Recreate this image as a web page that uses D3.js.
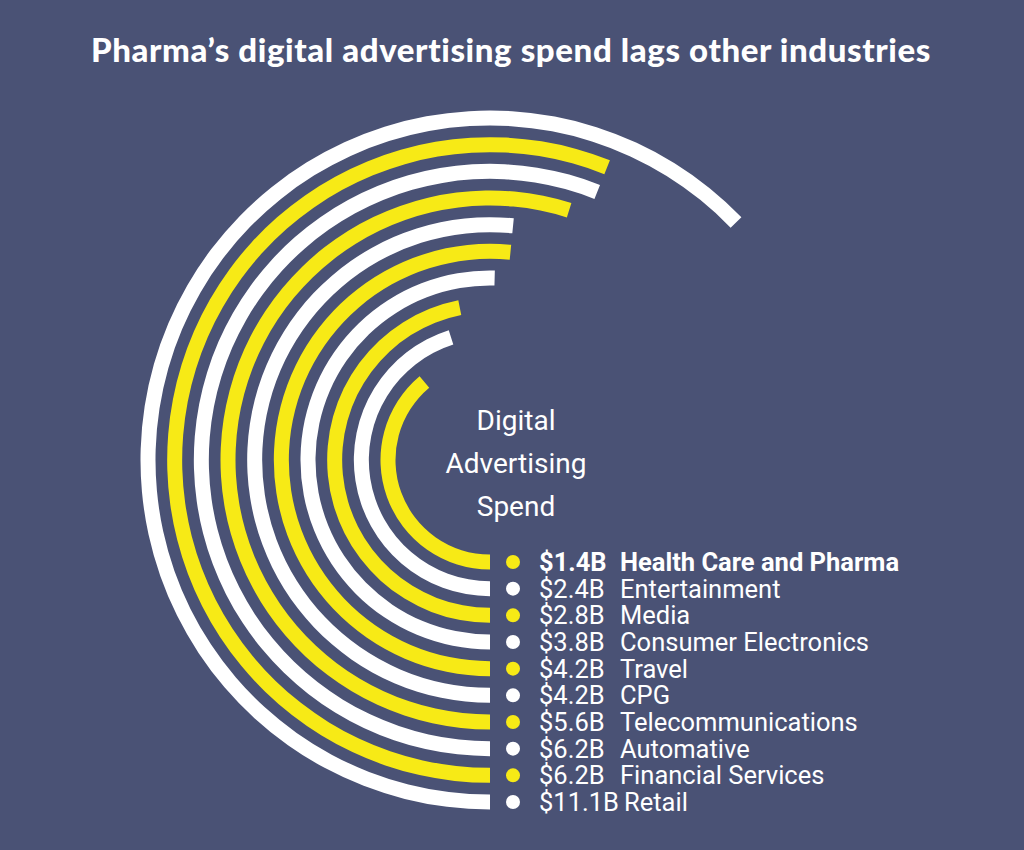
<!DOCTYPE html>
<html><head><meta charset="utf-8">
<script src="https://cdn.jsdelivr.net/npm/d3@7/dist/d3.min.js"></script>
<style>body{margin:0;background:#4a5275;}svg{display:block;}</style>
</head><body>
<script>
const categories = ["Health Care and Pharma","Entertainment","Media","Consumer Electronics","Travel","CPG","Telecommunications","Automative","Financial Services","Retail"];
const values = [1.4,2.4,2.8,3.8,4.2,4.2,5.6,6.2,6.2,11.1];
const valueLabels = ["$1.4B","$2.4B","$2.8B","$3.8B","$4.2B","$4.2B","$5.6B","$6.2B","$6.2B","$11.1B"];
const colors = ["#f7ea16","#ffffff"];

const W=1024,H=850,cx=490,cy=460;
const svg=d3.select("body").append("svg").attr("width",W).attr("height",H);
svg.append("rect").attr("width",W).attr("height",H).attr("fill","#4a5275");
svg.append("text").attr("x",511).attr("y",62).attr("text-anchor","middle")
  .attr("fill","#fff").attr("font-family","Lato, 'Open Sans', sans-serif").attr("font-weight","900")
  .attr("font-size",33).attr("letter-spacing",0.6).text("Pharma’s digital advertising spend lags other industries");

const r = d3.scaleLinear().domain([0,9]).range([102,342]);
const ang = d3.scaleLog().domain([1,11.1]).range([126,226]);
const arc = d3.arc();
const g=svg.append("g").attr("transform",`translate(${cx},${cy})`);
values.forEach((v,i)=>{
  const rr=r(i);
  g.append("path").attr("d",arc({innerRadius:rr-7.5,outerRadius:rr+7.5,startAngle:Math.PI,endAngle:Math.PI+ang(v)*Math.PI/180}))
   .attr("fill",colors[i%2]);
  const y=cy+rr;
  svg.append("circle").attr("cx",513).attr("cy",y).attr("r",7).attr("fill",colors[i%2]);
  const t=svg.append("text").attr("x",539).attr("y",y+9).attr("fill","#fff")
   .attr("font-family","Roboto, sans-serif").attr("font-size",25.5)
   .attr("font-weight",i===0?"bold":"normal");
  t.append("tspan").text(valueLabels[i]);
  t.append("tspan").attr("x",i===9?624:620).text(categories[i]);
});
["Digital","Advertising","Spend"].forEach((s,i)=>{
  svg.append("text").attr("x",516).attr("y",430+i*43).attr("text-anchor","middle")
   .attr("fill","#fff").attr("font-family","Roboto, sans-serif").attr("font-size",28).text(s);
});
</script>
</body></html>
